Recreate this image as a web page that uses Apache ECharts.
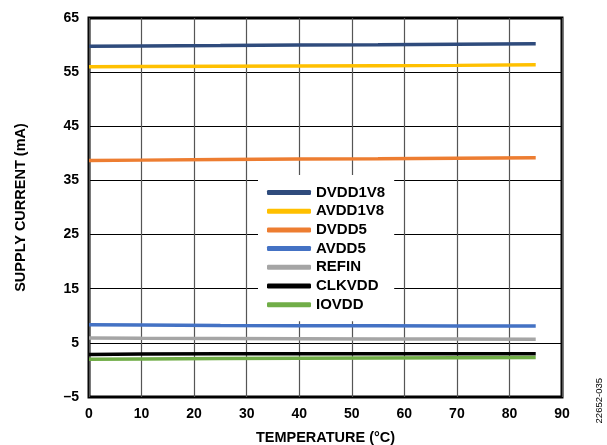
<!DOCTYPE html>
<html>
<head>
<meta charset="utf-8">
<script src="https://cdn.jsdelivr.net/npm/echarts@6/dist/echarts.min.js"></script>
<style>
  html, body { margin: 0; padding: 0; background: #fff; }
  #chart { width: 607px; height: 445px; }
</style>
</head>
<body>
<div id="chart"></div>
<script>
// Temperature sample points (°C)
const temps = [0, 10, 25, 40, 55, 70, 85];

// Supply current per rail (mA)
const dvdd1v8 = [59.8, 59.85, 59.9, 60.0, 60.05, 60.15, 60.25];
const avdd1v8 = [56.0, 56.05, 56.1, 56.15, 56.2, 56.25, 56.35];
const dvdd5   = [38.7, 38.75, 38.85, 38.95, 39.0, 39.1, 39.2];
const avdd5   = [8.35, 8.3, 8.2, 8.15, 8.15, 8.1, 8.1];
const refin   = [5.9, 5.85, 5.8, 5.75, 5.7, 5.7, 5.65];
const clkvdd  = [2.85, 2.95, 3.0, 3.0, 3.0, 3.0, 3.0];
const iovdd   = [1.95, 2.0, 2.1, 2.15, 2.2, 2.25, 2.3];

const seriesNames = ['DVDD1V8', 'AVDD1V8', 'DVDD5', 'AVDD5', 'REFIN', 'CLKVDD', 'IOVDD'];
const seriesData  = [dvdd1v8, avdd1v8, dvdd5, avdd5, refin, clkvdd, iovdd];
const seriesColors = ['#2F4B7C', '#FFC000', '#ED7D31', '#4472C4', '#A5A5A5', '#000000', '#70AD47'];

const xTicks = { min: 0, max: 90, interval: 10 };
const yTicks = { min: -5, max: 65, interval: 10 };

const font = '"Liberation Sans", Arial, sans-serif';
const chart = echarts.init(document.getElementById('chart'), null, { renderer: 'canvas' });

const series = seriesNames.map((name, i) => ({
  name,
  type: 'line',
  data: temps.map((t, j) => [t, seriesData[i][j]]),
  symbol: 'none',
  smooth: false,
  lineStyle: { color: seriesColors[i], width: 3.5 },
  itemStyle: { color: seriesColors[i] },
  z: 3
}));

chart.setOption({
  animation: false,
  backgroundColor: '#fff',
  grid: {
    left: 89, right: 45, top: 18, bottom: 48,
    outerBoundsMode: 'none',
    containLabel: false,
    show: true, borderColor: '#000', borderWidth: 3
  },
  xAxis: {
    type: 'value',
    min: xTicks.min, max: xTicks.max, interval: xTicks.interval,
    name: 'TEMPERATURE (°C)',
    nameLocation: 'middle', nameGap: 33,
    nameTextStyle: { fontFamily: font, fontWeight: 'bold', fontSize: 14.5, color: '#000' },
    axisLine: { show: false },
    axisTick: { show: false },
    axisLabel: { fontFamily: font, fontWeight: 'bold', fontSize: 14, color: '#000', margin: 10 },
    splitLine: { show: true, lineStyle: { color: '#555', width: 1.2 } }
  },
  yAxis: {
    type: 'value',
    min: yTicks.min, max: yTicks.max, interval: yTicks.interval,
    name: 'SUPPLY CURRENT (mA)',
    nameLocation: 'middle', nameGap: 61, nameRotate: 90,
    nameTextStyle: { fontFamily: font, fontWeight: 'bold', fontSize: 14.5, color: '#000' },
    axisLine: { show: false },
    axisTick: { show: false },
    axisLabel: {
      fontFamily: font, fontWeight: 'bold', fontSize: 14, color: '#000', margin: 10,
      formatter: v => String(v).replace('-', '\u2013')
    },
    splitLine: { show: true, lineStyle: { color: '#000', width: 1 } }
  },
  legend: {
    orient: 'vertical',
    left: 258, top: 175,
    padding: [10, 9, 9, 9],
    backgroundColor: '#fff',
    itemWidth: 44, itemHeight: 5,
    itemGap: 3.7,
    icon: 'roundRect',
    data: seriesNames,
    textStyle: { fontFamily: font, fontWeight: 'bold', fontSize: 15, lineHeight: 15, color: '#000' }
  },
  graphic: [{
    type: 'text',
    left: 594, top: 378,
    rotation: Math.PI / 2,
    style: { text: '22652-035', font: '9.5px ' + font, fill: '#000' }
  }],
  series
});
</script>
</body>
</html>
